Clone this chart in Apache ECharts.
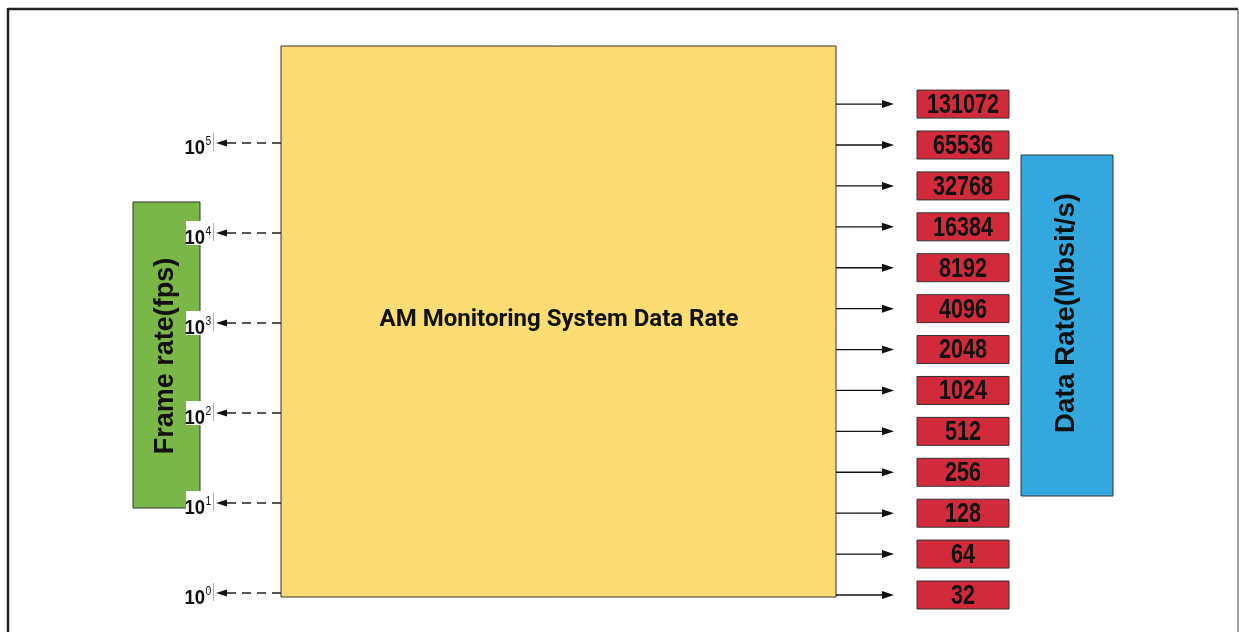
<!DOCTYPE html>
<html>
<head>
<meta charset="utf-8">
<script src="https://cdn.jsdelivr.net/npm/echarts@6/dist/echarts.min.js"></script>
<style>html,body{margin:0;padding:0;background:#fff;}#c{width:1239px;height:632px;}</style>
</head>
<body>
<div id="c"></div>
<script>
// ---- data ----
var frameRates = [100000, 10000, 1000, 100, 10, 1];
var frameBase = ['10', '10', '10', '10', '10', '10'];
var frameExp = ['5', '4', '3', '2', '1', '0'];
var dataRates = [131072, 65536, 32768, 16384, 8192, 4096, 2048, 1024, 512, 256, 128, 64, 32];
var titleText = 'AM Monitoring System Data Rate';
var leftAxisName = 'Frame rate(fps)';
var rightAxisName = 'Data Rate(Mbsit/s)';

var chart = echarts.init(document.getElementById('c'), null, {renderer: 'canvas'});

function frameItem(params, api) {
  var i = api.value(2);
  var y = api.coord([0, api.value(1)])[1] - 2;
  return {
    type: 'group',
    children: [
      {type: 'line', shape: {x1: 281, y1: y, x2: 226, y2: y},
       style: {stroke: '#222', lineWidth: 1.3, lineDash: [9, 6]}},
      {type: 'polygon', shape: {points: [[216, y], [227, y - 3.5], [227, y + 3.5]]},
       style: {fill: '#111'}},
      {type: 'rect', shape: {x: 186, y: y - 12, width: 28, height: 24}, style: {fill: '#fff'}},
      {type: 'line', shape: {x1: 213.5, y1: y - 10, x2: 213.5, y2: y + 8},
       style: {stroke: '#999', lineWidth: 0.8}},
      {type: 'text', x: 205, y: y + 5, scaleX: 0.88,
       style: {text: frameBase[i], x: 0, y: 0, align: 'right', verticalAlign: 'middle',
        font: 'bold 21px "Liberation Sans", Arial, sans-serif', fill: '#111'}},
      {type: 'text', x: 205.5, y: y - 2, scaleX: 0.8,
       style: {text: frameExp[i], x: 0, y: 0, align: 'left', verticalAlign: 'middle',
        font: '13px "Liberation Sans", sans-serif', fill: '#111'}}
    ]
  };
}

function rateItem(params, api) {
  var i = api.value(2);
  var y = api.coord([0, api.value(1)])[1];
  return {
    type: 'group',
    children: [
      {type: 'line', shape: {x1: 836, y1: y, x2: 884, y2: y}, style: {stroke: '#111', lineWidth: 1.3}},
      {type: 'polygon', shape: {points: [[894, y], [882, y - 4], [882, y + 4]]}, style: {fill: '#111'}},
      {type: 'rect', shape: {x: 917, y: y - 14, width: 92, height: 28},
       style: {fill: '#d12b3b', stroke: '#333', lineWidth: 1}},
      {type: 'text', x: 963, y: y + 1.5, scaleX: 0.8,
       style: {text: String(dataRates[i]), x: 0, y: 0, align: 'center', verticalAlign: 'middle',
        font: 'bold 27px "Liberation Sans", Arial, sans-serif', fill: '#111'}}
    ]
  };
}

var option = {
  backgroundColor: '#fff',
  animation: false,
  grid: {left: 0, right: 0, top: 145, bottom: 37},
  xAxis: {type: 'value', min: 0, max: 1, show: false},
  yAxis: [
    {type: 'log', logBase: 10, min: 1, max: 100000, show: false},
    {type: 'log', logBase: 2, min: 32, max: 65536, show: false}
  ],
  graphic: [
    {type: 'line', z: 1, shape: {x1: 8, y1: 9, x2: 1238, y2: 9}, style: {stroke: '#222', lineWidth: 2.5}},
    {type: 'line', z: 1, shape: {x1: 8, y1: 8, x2: 8, y2: 632}, style: {stroke: '#222', lineWidth: 2.5}},
    {type: 'line', z: 1, shape: {x1: 1238, y1: 9, x2: 1238, y2: 632}, style: {stroke: '#666', lineWidth: 1.2}},
    {type: 'rect', z: 1, shape: {x: 281, y: 46, width: 555, height: 551},
     style: {fill: '#fcdd74', stroke: '#333', lineWidth: 1}},
    {type: 'text', z: 2, style: {text: titleText, x: 559, y: 320, align: 'center', verticalAlign: 'middle',
      font: 'bold 24px Roboto, "Liberation Sans", sans-serif', fill: '#111'}},
    {type: 'rect', z: 1, shape: {x: 133, y: 202, width: 67, height: 306},
     style: {fill: '#7ab648', stroke: '#333', lineWidth: 1}},
    {type: 'text', z: 2, x: 166, y: 356, rotation: Math.PI / 2,
     style: {text: leftAxisName, x: 0, y: 0, align: 'center', verticalAlign: 'middle',
      font: 'bold 27px "Liberation Sans", Arial, sans-serif', fill: '#111'}},
    {type: 'rect', z: 1, shape: {x: 1021, y: 155, width: 92, height: 341},
     style: {fill: '#35a7df', stroke: '#333', lineWidth: 1}},
    {type: 'text', z: 2, x: 1066, y: 313, rotation: Math.PI / 2,
     style: {text: rightAxisName, x: 0, y: 0, align: 'center', verticalAlign: 'middle',
      font: 'bold 27.5px "Liberation Sans", Arial, sans-serif', fill: '#111'}}
  ],
  series: [
    {type: 'custom', z: 10, yAxisIndex: 0, clip: false, renderItem: frameItem,
     data: frameRates.map(function (v, i) { return [0, v, i]; })},
    {type: 'custom', z: 10, yAxisIndex: 1, clip: false, renderItem: rateItem,
     data: dataRates.map(function (v, i) { return [0, v, i]; })}
  ]
};
chart.setOption(option);
</script>
</body>
</html>
